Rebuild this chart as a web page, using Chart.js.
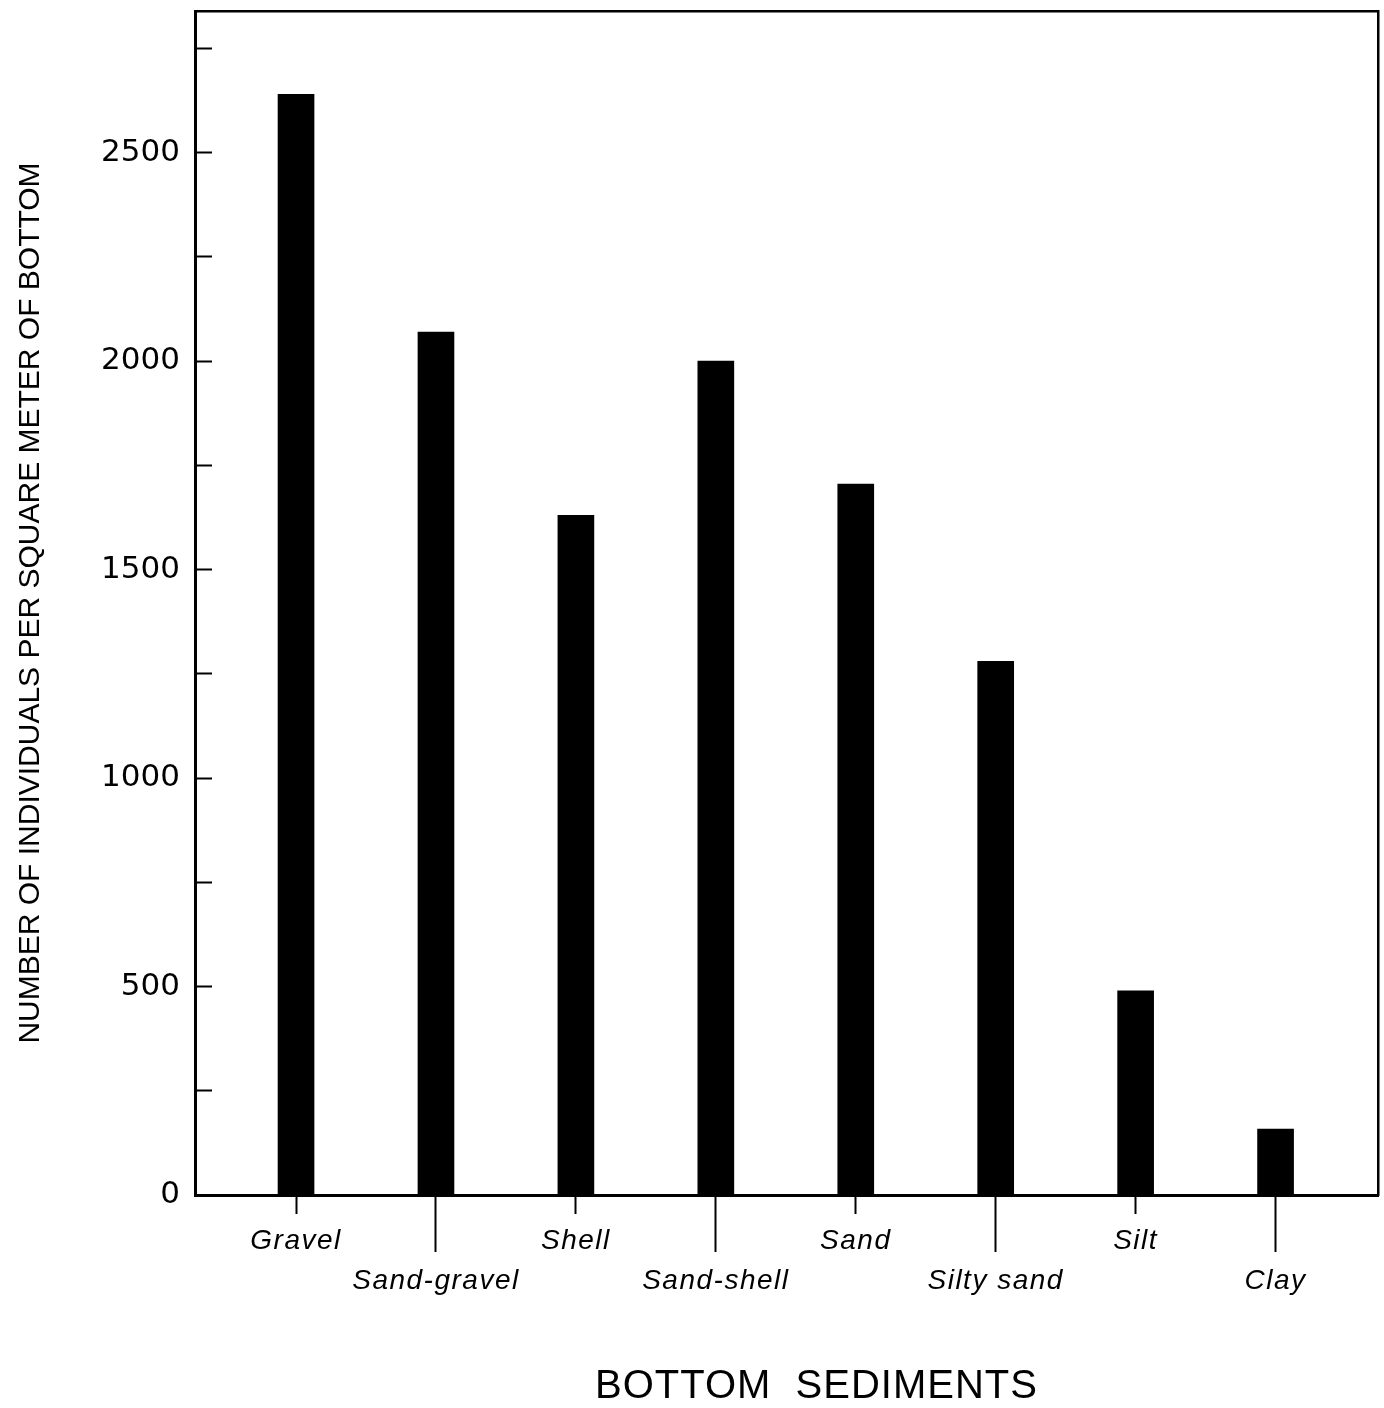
<!DOCTYPE html>
<html>
<head>
<meta charset="utf-8">
<title>Bottom sediments</title>
<script src="https://cdn.jsdelivr.net/npm/chart.js@4/dist/chart.umd.min.js"></script>
<style>
  html, body { margin: 0; padding: 0; background: #ffffff; }
  #wrap { width: 1384px; height: 1408px; }
</style>
</head>
<body>
<div id="wrap"><canvas id="chart" width="1384" height="1408"></canvas></div>
<script>
// Sediment types along the x axis (bars sit at index positions 0..7)
const categories = ['Gravel', 'Sand-gravel', 'Shell', 'Sand-shell', 'Sand', 'Silty sand', 'Silt', 'Clay'];
// Individuals per square metre of bottom
const individuals = [2640, 2070, 1630, 2000, 1705, 1280, 490, 158];
// Labelled y values (minor ticks every 250 between them)
const yLabelled = [0, 500, 1000, 1500, 2000, 2500];

const points = categories.map((c, i) => ({ x: i, y: individuals[i] }));

const INK = '#000000';
const tickFont = { family: 'Liberation Sans', size: 28, style: 'italic', lineHeight: 40 / 28 };

// Open up the lettering of the x axis labels and nudge its title right of centre
const xAxisLettering = {
  id: 'xAxisLettering',
  beforeDraw(chart) {
    const s = chart.scales.x;
    if (!s || s.__lettered) return;
    const origTitle = s.drawTitle;
    s.drawTitle = function () {
      const c = this.ctx;
      c.save();
      c.translate(30, 3);
      c.letterSpacing = '1px';
      origTitle.apply(this, arguments);
      c.restore();
    };
    const origLabels = s.drawLabels;
    s.drawLabels = function () {
      const c = this.ctx;
      c.save();
      c.letterSpacing = '1.5px';
      origLabels.apply(this, arguments);
      c.restore();
    };
    s.__lettered = true;
  }
};

new Chart(document.getElementById('chart'), {
  type: 'bar',
  data: {
    datasets: [{
      data: points,
      backgroundColor: INK,
      borderWidth: 0,
      barThickness: 36
    }]
  },
  plugins: [xAxisLettering],
  options: {
    responsive: false,
    animation: false,
    layout: { padding: { left: 13, top: 11, right: 6, bottom: 0 } },
    plugins: { legend: { display: false }, tooltip: { enabled: false } },
    scales: {
      x: {
        type: 'linear',
        position: 'bottom',
        offset: false,
        min: -0.722,
        max: 7.732,
        afterBuildTicks: s => { s.ticks = categories.map((c, i) => ({ value: i })); },
        afterFit: s => { s.height = 213; s.paddingLeft = 0; s.paddingRight = 0; },
        border: { display: true, color: INK, width: 3 },
        grid: {
          offset: false,
          drawOnChartArea: false,
          drawTicks: true,
          tickLength: 57,
          tickWidth: 2,
          tickColor: INK,
          tickBorderDash: ctx => (ctx.index % 2 === 0 ? [17, 200] : [])
        },
        ticks: {
          color: INK,
          font: tickFont,
          padding: -31,
          maxRotation: 0,
          autoSkip: false,
          callback: v => {
            const label = categories[v];
            return v % 2 === 1 ? ['', label] : label;
          }
        },
        title: {
          display: true,
          text: 'BOTTOM  SEDIMENTS',
          color: INK,
          font: { family: 'Liberation Sans', size: 40 },
          padding: { top: 0, bottom: 0 }
        }
      },
      y: {
        type: 'linear',
        position: 'left',
        min: 0,
        max: 2840,
        afterFit: s => { s.width = 182; s.paddingTop = 0; s.paddingBottom = 0; },
        border: { display: true, color: INK, width: 3 },
        grid: {
          drawOnChartArea: false,
          drawTicks: true,
          tickLength: -17,
          tickWidth: 2,
          tickColor: INK
        },
        ticks: {
          stepSize: 250,
          includeBounds: false,
          color: INK,
          padding: 32,
          font: { family: 'DejaVu Sans', size: 31 },
          callback: v => (yLabelled.includes(v) ? String(v) : '')
        },
        title: {
          display: true,
          text: 'NUMBER OF INDIVIDUALS PER SQUARE METER OF BOTTOM',
          color: INK,
          font: { family: 'Liberation Sans', size: 30 },
          padding: { top: 0, bottom: 0 }
        }
      },
      xTop: {
        type: 'linear',
        position: 'top',
        display: true,
        afterFit: s => { s.height = 0; },
        border: { display: true, color: INK, width: 2.5 },
        grid: { display: false, drawOnChartArea: false, drawTicks: false },
        ticks: { display: false }
      },
      yRight: {
        type: 'linear',
        position: 'right',
        display: true,
        afterFit: s => { s.width = 0; },
        border: { display: true, color: INK, width: 2.5 },
        grid: { display: false, drawOnChartArea: false, drawTicks: false },
        ticks: { display: false }
      }
    }
  }
});
</script>
</body>
</html>
